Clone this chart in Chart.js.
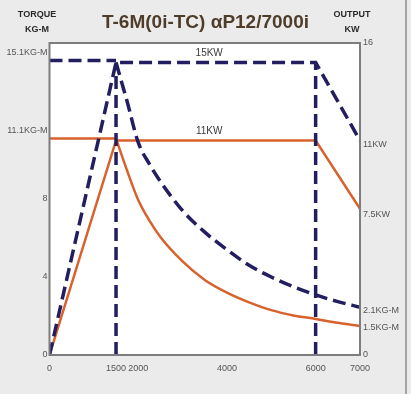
<!DOCTYPE html>
<html>
<head>
<meta charset="utf-8">
<title>T-6M(0i-TC) αP12/7000i</title>
<script src="https://cdn.jsdelivr.net/npm/chart.js@4.4.0/dist/chart.umd.min.js"></script>
<style>
  body { margin: 0; background: #ebebeb; }
  #wrap { position: relative; width: 411px; height: 394px; overflow: hidden; font-family: "Liberation Sans", Arial, sans-serif; }
  #wrap canvas { position: absolute; left: 0; top: 0; }
  .axis-name { position: absolute; font-weight: bold; font-size: 9px; color: #2a2a2a; text-align: center; line-height: 15px; }
  #title { position: absolute; left: 0; top: 11px; width: 411px; text-align: center; font-weight: bold; font-size: 19px; color: #4f3d2b; }
  #edge { position: absolute; left: 405px; top: 0; width: 2px; height: 394px; background: #a3a3a3; }
</style>
</head>
<body>
<div id="wrap">
  <canvas id="myChart" width="411" height="394"></canvas>
  <div id="title">T-6M(0i-TC) αP12/7000i</div>
  <div class="axis-name" style="left:12px; top:7px; width:50px;">TORQUE<br>KG-M</div>
  <div class="axis-name" style="left:327px; top:7px; width:50px;">OUTPUT<br>KW</div>
  <div id="edge"></div>
</div>
<script>
'use strict';

// *Data* - speed in rpm, torque in KG-M, output in KW
let rpmTicks = [0, 1500, 2000, 4000, 6000, 7000];
let leftTickValues = [0, 4, 8, 11.5, 15.5];
let leftTickLabels = ['0', '4', '8', '11.1KG-M', '15.1KG-M'];
let rightTickValues = [0, 1.4, 2.3, 7.2, 10.8, 16];
let rightTickLabels = ['0', '1.5KG-M', '2.1KG-M', '7.5KW', '11KW', '16'];

// 15KW rating (dashed)
let powerRpmA = [0, 1500, 6000, 7000];
let powerKwA = [0, 15, 15, 11];
let flatRpmA = [0, 1500];
let flatKgmA = [15.1, 15.1];
let torqueRpmA = [1500, 1750, 2000, 2250, 2500, 3000, 3500, 4000, 4500, 5000, 5500, 6000, 6500, 7000];
let torqueKgmA = [15.0, 13.0, 10.9, 9.8, 8.9, 7.4, 6.3, 5.4, 4.6, 4.0, 3.5, 3.08, 2.74, 2.45];

// 11KW rating (solid)
let powerRpmB = [0, 1500, 6000, 7000];
let powerKwB = [0, 11, 11, 7.5];
let flatRpmB = [0, 1500];
let flatKgmB = [11.1, 11.1];
let torqueRpmB = [1500, 1750, 2000, 2250, 2500, 3000, 3500, 4000, 4500, 5000, 5500, 6000, 6500, 7000];
let torqueKgmB = [11.1, 9.45, 7.95, 6.9, 6.05, 4.8, 3.85, 3.2, 2.7, 2.3, 2.03, 1.85, 1.65, 1.49];

// base speed / max constant power speed markers
let markerRpm = [1500, 6000];
let markerKw = 15;

// in-plot power labels
let powerLabels = ['15KW', '11KW'];
let powerLabelValues = [15, 11];
let powerLabelRpm = 3600;

// *Styles*
let navy = '#221e5f';
let orange = '#d8622c';
let tickFont = { family: '"Liberation Sans Narrow", "Liberation Sans", Arial', size: 9 };

function toPoints(xs, ys) {
  return xs.map((x, i) => ({ x: x, y: ys[i] }));
}

function dashed(points, extra) {
  return Object.assign({
    data: points,
    borderColor: navy,
    borderWidth: 3.5,
    borderDash: [13, 6],
    pointRadius: 0,
    order: 1
  }, extra || {});
}

function solid(points, extra) {
  return Object.assign({
    data: points,
    borderColor: orange,
    borderWidth: 2.5,
    pointRadius: 0,
    order: 2
  }, extra || {});
}

let datasets = [
  dashed(toPoints(powerRpmA, powerKwA)),
  dashed(toPoints(flatRpmA, flatKgmA)),
  dashed(toPoints(torqueRpmA, torqueKgmA), { cubicInterpolationMode: 'monotone' }),
  solid(toPoints(powerRpmB, powerKwB)),
  solid(toPoints(flatRpmB, flatKgmB)),
  solid(toPoints(torqueRpmB, torqueKgmB), { cubicInterpolationMode: 'monotone' })
];

for (let i = 0; i < markerRpm.length; i++) {
  datasets.push(dashed([{ x: markerRpm[i], y: 0 }, { x: markerRpm[i], y: markerKw }], { order: 0 }));
}

// white plot area + frame
const plotFrame = {
  id: 'plotFrame',
  beforeDatasetsDraw(chart) {
    let a = chart.chartArea;
    let c = chart.ctx;
    c.save();
    c.fillStyle = '#ffffff';
    c.fillRect(a.left, a.top, a.right - a.left, a.bottom - a.top);
    c.restore();
  },
  afterDatasetsDraw(chart) {
    let a = chart.chartArea;
    let c = chart.ctx;
    c.save();
    c.strokeStyle = '#7d7d7d';
    c.lineWidth = 2;
    c.strokeRect(a.left, a.top, a.right - a.left, a.bottom - a.top);

    // power labels over the flat parts
    c.fillStyle = '#3a3a3a';
    c.font = '10px "Liberation Sans"';
    c.textAlign = 'center';
    c.textBaseline = 'bottom';
    let x = chart.scales.x.getPixelForValue(powerLabelRpm);
    for (let i = 0; i < powerLabels.length; i++) {
      let y = chart.scales.y.getPixelForValue(powerLabelValues[i]);
      c.fillText(powerLabels[i], x, y - 4);
    }
    c.restore();
  }
};

new Chart(document.getElementById('myChart'), {
  type: 'line',
  data: { datasets: datasets },
  options: {
    responsive: false,
    animation: false,
    layout: { padding: { top: 43, left: 0, right: 0, bottom: 0 } },
    plugins: { legend: { display: false }, tooltip: { enabled: false } },
    scales: {
      x: {
        type: 'linear',
        min: 0,
        max: 7000,
        grid: { display: false, drawTicks: false },
        border: { display: false },
        afterBuildTicks: (scale) => { scale.ticks = rpmTicks.map(v => ({ value: v })); },
        afterFit: (scale) => { scale.height = 39; },
        ticks: {
          color: '#555', font: tickFont, padding: 8, maxRotation: 0, autoSkip: false,
          callback: (value) => String(value)
        }
      },
      y: {
        position: 'left',
        min: 0,
        max: 16,
        grid: { display: false, drawTicks: false },
        border: { display: false },
        afterBuildTicks: (scale) => { scale.ticks = leftTickValues.map(v => ({ value: v })); },
        afterFit: (scale) => { scale.width = 49.5; },
        ticks: {
          color: '#555', font: tickFont, padding: 2, autoSkip: false,
          callback: (value, index) => leftTickLabels[index]
        }
      },
      y1: {
        position: 'right',
        min: 0,
        max: 16,
        grid: { display: false, drawTicks: false },
        border: { display: false },
        afterBuildTicks: (scale) => { scale.ticks = rightTickValues.map(v => ({ value: v })); },
        afterFit: (scale) => { scale.width = 51; },
        ticks: {
          color: '#555', font: tickFont, padding: 3, autoSkip: false,
          callback: (value, index) => rightTickLabels[index]
        }
      }
    }
  },
  plugins: [plotFrame]
});
</script>
</body>
</html>
